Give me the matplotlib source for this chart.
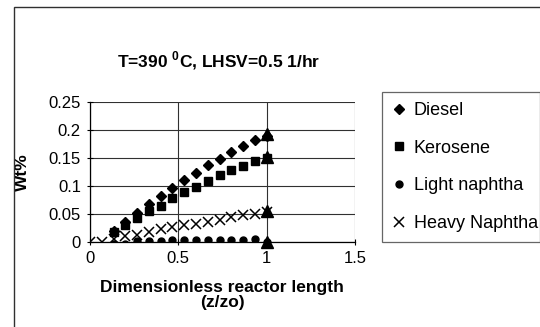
import numpy as np
import matplotlib
matplotlib.use("Agg")
import matplotlib.pyplot as plt
from matplotlib.patches import Rectangle

plt.rcParams["font.family"] = ["Liberation Sans", "DejaVu Sans"]
plt.rcParams["mathtext.fontset"] = "custom"
plt.rcParams["mathtext.rm"] = "Liberation Sans"
plt.rcParams["mathtext.bf"] = "Liberation Sans:bold"

# dimensionless reactor length, 16 points
z = np.arange(16) / 15

nan = np.nan
diesel = [nan, nan, 0.020, 0.036, 0.052, 0.067, 0.083, 0.097, 0.110, 0.124,
          0.137, 0.148, 0.161, 0.172, 0.183, 0.190]
kerosene = [nan, nan, 0.018, 0.030, 0.043, 0.055, 0.065, 0.078, 0.090, 0.099,
            0.109, 0.119, 0.128, 0.136, 0.144, 0.150]
light_naphtha = [nan, nan, -0.004, -0.003, 0.001, 0.002, 0.002, 0.003, 0.003,
                 0.003, 0.003, 0.003, 0.004, 0.004, 0.006, 0.0]
heavy_naphtha = [0.0, 0.0, 0.005, 0.010, 0.013, 0.018, 0.024, 0.027, 0.030,
                 0.033, 0.036, 0.040, 0.045, 0.048, 0.050, 0.054]

# reactor outlet values
z_out = [1.0, 1.0, 1.0, 1.0]
outlet = [0.192, 0.152, 0.055, 0.0]

fig = plt.figure(figsize=(5.4, 3.27), dpi=100)
ax = fig.add_axes([90 / 540, 1 - 242 / 327, 265 / 540, 140 / 327])

ax.plot(z, diesel, ls="none", marker="D", ms=5.2, color="black", label="Diesel")
ax.plot(z, kerosene, ls="none", marker="s", ms=5.5, color="black", label="Kerosene")
ax.plot(z, light_naphtha, ls="none", marker="o", ms=5, color="black",
        label="Light naphtha")
ax.plot(z, heavy_naphtha, ls="none", marker="x", ms=7, mew=1.1, color="black",
        label="Heavy Naphtha")
ax.plot(z_out, outlet, ls="none", marker="^", ms=9, color="black", clip_on=False)

ax.set_xlim(0, 1.5)
ax.set_ylim(0, 0.25)
ax.set_xticks([0, 0.5, 1, 1.5])
ax.set_xticklabels(["0", "0.5", "1", "1.5"])
ax.set_yticks([0, 0.05, 0.1, 0.15, 0.2, 0.25])
ax.set_yticklabels(["0", "0.05", "0.1", "0.15", "0.2", "0.25"])
ax.tick_params(direction="inout", length=5, width=0.8, labelsize=12, pad=4)
ax.grid(True, color="#303030", lw=0.8)
ax.set_axisbelow(True)
for side in ["top", "right"]:
    ax.spines[side].set_visible(False)
for side in ["left", "bottom"]:
    ax.spines[side].set_linewidth(0.9)

ax.set_ylabel("Wt%", fontsize=12.5, fontweight="bold")
ax.yaxis.set_label_coords(-0.226, 0.5)
ax.set_xlabel("Dimensionless reactor length\n(z/zo)", fontsize=12.5,
              fontweight="bold", linespacing=0.95, va="center")
ax.xaxis.set_label_coords(0.498, -0.379)

fig.text(219 / 540, 1 - 61 / 327, r"T=390 $^{\mathbf{0}}$C, LHSV=0.5 1/hr",
         ha="center", va="center", fontsize=12.5, fontweight="bold")

leg = ax.legend(loc="upper left", bbox_to_anchor=(382 / 540, 1 - 252 / 327,
                                                  157.5 / 540, 160 / 327),
                bbox_transform=fig.transFigure, mode="expand", fontsize=13,
                frameon=True, fancybox=False, borderpad=0.55, labelspacing=1.15,
                handlelength=0.8, handletextpad=0.4, borderaxespad=0)
leg.get_frame().set_edgecolor("#404040")
leg.get_frame().set_linewidth(0.9)

# outer chart border
fig.add_artist(Rectangle((14 / 540, -0.2), 1.2, 1.2 - 6.5 / 327,
                         transform=fig.transFigure, fill=False,
                         edgecolor="#303030", lw=1.0))

fig.savefig("out.png", dpi=100)
